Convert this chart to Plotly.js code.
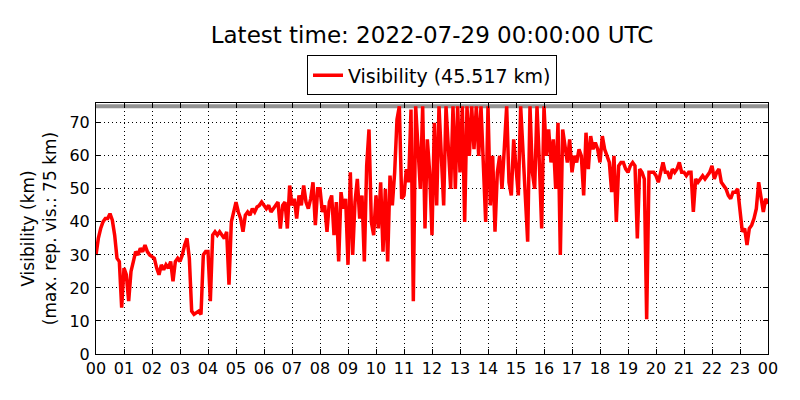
<!DOCTYPE html>
<html>
<head>
<meta charset="utf-8">
<script src="https://cdn.plot.ly/plotly-3.0.1.min.js"></script>
<style>
  html, body { margin: 0; padding: 0; background: #fff; }
  #plot { width: 800px; height: 400px; }
</style>
</head>
<body>
<div id="plot"></div>
<script>
// visibility readings, one every 5 minutes from 2022-07-28 00:00 UTC
const startTime = Date.UTC(2022, 6, 28, 0, 0, 0);
const stepMinutes = 5;
const maxRepVis = 75;
const latestValue = 45.517;
const visibility = [
  30, 35, 38, 40, 41, 41, 42.5, 40.5, 36, 29, 28, 14,   // 00
  26, 24, 16, 25, 28, 31, 30, 32, 31, 33, 31, 30,       // 01
  29.5, 29, 26, 24, 27, 25.5, 27, 26, 28, 22, 28, 29,   // 02
  28, 30, 33, 35, 29, 13, 12, 12.5, 13, 12, 30, 31,     // 03
  31, 16, 36, 37, 36, 37, 36, 35, 37, 21, 40, 43,       // 04
  46, 43, 41, 37, 42, 43, 42, 44, 43, 44.5, 45, 46,     // 05
  45, 44, 45, 43, 44, 45, 46, 38, 45, 46, 38, 51,       // 06
  45, 47, 41, 48, 45, 51, 46, 44, 47, 52, 39, 50,       // 07
  50, 43, 45, 37, 46, 48, 36, 46, 28, 49, 44, 47,       // 08
  27, 55, 30, 46, 53, 41, 48, 28, 57, 68, 40, 36,       // 09
  48, 38, 52, 31, 50, 28, 54, 45, 55, 71, 75, 47,       // 10
  48, 56, 52, 74, 16, 75, 60, 50, 75, 38, 65, 55,       // 11
  36, 70, 45, 75, 60, 45, 75, 60, 50, 75, 50, 75,       // 12
  55, 75, 40, 75, 60, 75, 62, 75, 60, 75, 56, 40,       // 13
  75, 45, 60, 37, 55, 60, 50, 62, 75, 52, 48, 65,       // 14
  55, 48, 75, 60, 50, 34, 75, 55, 50, 75, 58, 38,       // 15
  75, 60, 68, 58, 65, 50, 70, 30, 68, 62, 58, 65,       // 16
  55, 60, 58, 62, 60, 48, 67, 56, 66, 62, 64, 62,       // 17
  58, 66, 62, 60, 58, 49, 60, 40, 57, 58, 58, 56,       // 18
  55, 57, 58, 57, 35, 56, 55, 53, 10.5, 55, 55, 55,     // 19
  54, 52, 55, 58, 55, 55, 53, 56, 55, 56, 58, 55,       // 20
  55, 54, 55, 55, 43, 53, 52, 53, 54, 53, 54, 55,       // 21
  57, 53, 55, 56, 52, 51, 50, 48, 47, 49, 49, 50,       // 22
  44, 37, 38, 33, 38, 39, 41, 44, 52, 47, 43, 47,       // 23
  latestValue
];
const yTicks = [0, 10, 20, 30, 40, 50, 60, 70];

const times = visibility.map((_, i) => new Date(startTime + i * stepMinutes * 60000).toISOString());
const endTime = new Date(startTime + 24 * 3600000).toISOString();

const font = 'DejaVu Sans, sans-serif';

const trace = {
  x: times, y: visibility, type: 'scatter', mode: 'lines',
  line: { color: '#ff0000', width: 3.5 },
  name: `Visibility (${latestValue.toFixed(3)} km)`
};

const axisCommon = {
  showline: true, mirror: 'ticks', linecolor: '#000', linewidth: 1,
  ticks: 'inside', ticklen: 5, tickcolor: '#000', tickwidth: 1,
  showgrid: true, gridcolor: '#000', gridwidth: 1, griddash: '1px,3px',
  zeroline: false, tickfont: { family: font, size: 16, color: '#000' }
};

const layout = {
  width: 800, height: 400,
  margin: { l: 96, r: 32, t: 103, b: 46 },
  paper_bgcolor: '#fff', plot_bgcolor: '#fff',
  font: { family: font, color: '#000' },
  title: {
    text: `Latest time: 2022-07-29 00:00:00 UTC`,
    font: { family: font, size: 23, color: '#000' },
    xref: 'paper', x: 0.5, xanchor: 'center',
    yref: 'container', y: 1 - 35 / 400, yanchor: 'middle'
  },
  showlegend: true,
  legend: {
    orientation: 'h', x: 0.5, xanchor: 'center', y: 1.19, yanchor: 'top',
    bordercolor: '#000', borderwidth: 1, bgcolor: '#fff',
    font: { family: font, size: 19, color: '#000' }
  },
  xaxis: Object.assign({}, axisCommon, {
    type: 'date', range: [times[0], endTime],
    dtick: 3600000, tick0: times[0], tickformat: '%H'
  }),
  yaxis: Object.assign({}, axisCommon, {
    range: [0, 76], tickvals: yTicks, ticklabelstandoff: 2,
    title: {
      text: 'Visibility (km)<br>(max. rep. vis.: 75 km)',
      font: { family: font, size: 17, color: '#000' }, standoff: 8
    }
  }),
  shapes: [{
    type: 'line', xref: 'paper', x0: 0, x1: 1, yref: 'y', y0: maxRepVis, y1: maxRepVis,
    line: { color: 'rgba(128,128,128,0.85)', width: 4 }, layer: 'below'
  }]
};

Plotly.newPlot('plot', [trace], layout, { staticPlot: true });
</script>
</body>
</html>
